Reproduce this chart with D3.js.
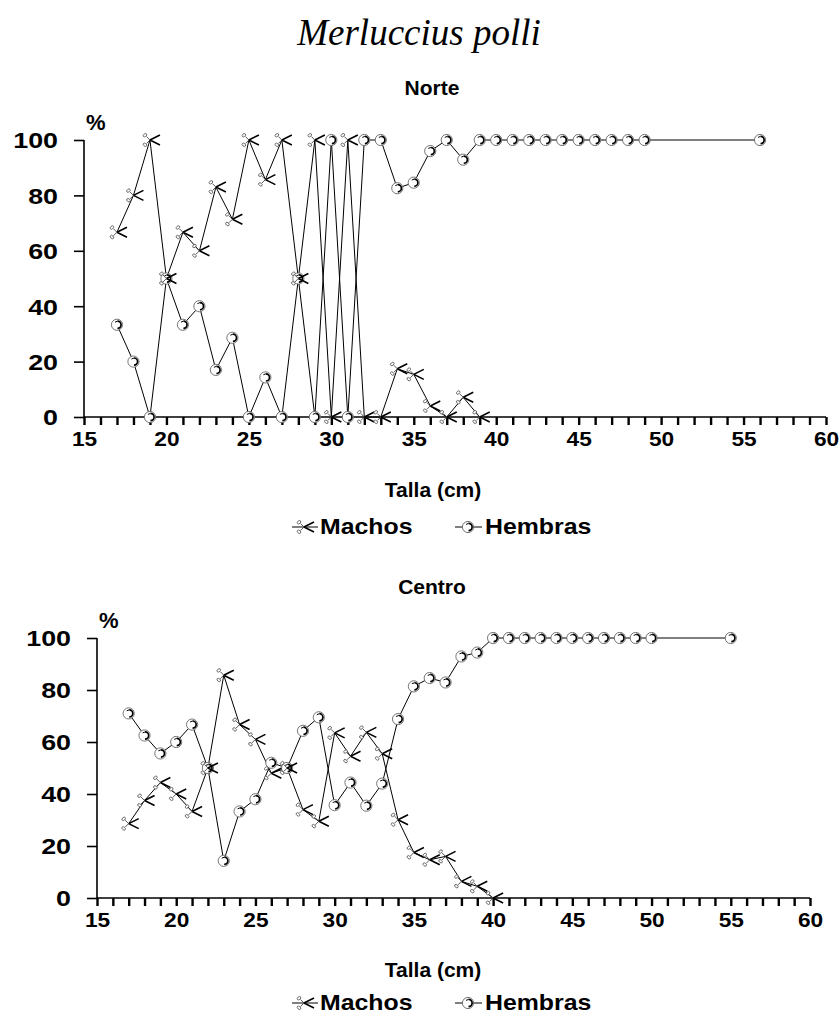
<!DOCTYPE html>
<html>
<head>
<meta charset="utf-8">
<script src="https://cdn.jsdelivr.net/npm/d3@7"></script>
<style>
  body { margin: 0; background: #fff; overflow: hidden; }
  svg { display: block; }
  svg text { font-family: "Liberation Sans", Arial, sans-serif; font-weight: bold; fill: #000; }
</style>
</head>
<body>
<div id="vis"></div>
<script>
// Talla (cm) for each panel
const norteTalla = [17, 18, 19, 20, 21, 22, 23, 24, 25, 26, 27, 28, 29, 30, 31, 32, 33, 34, 35, 36, 37, 38, 39, 40, 41, 42, 43, 44, 45, 46, 47, 48, 49, 56];
const norteMachos = [66.7, 80, 100, 50, 66.7, 60, 83, 71.4, 100, 85.7, 100, 50, 100, 0, 100, 0, 0, 17.4, 15.4, 4, 0, 7.1, 0];
const norteHembras = [33.3, 20, 0, 50, 33.3, 40, 17, 28.6, 0, 14.3, 0, 50, 0, 100, 0, 100, 100, 82.6, 84.6, 96, 100, 92.9, 100, 100, 100, 100, 100, 100, 100, 100, 100, 100, 100, 100];

const centroTalla = [17, 18, 19, 20, 21, 22, 23, 24, 25, 26, 27, 28, 29, 30, 31, 32, 33, 34, 35, 36, 37, 38, 39, 40, 41, 42, 43, 44, 45, 46, 47, 48, 49, 50, 55];
const centroMachos = [28.6, 37.5, 44.4, 40, 33.3, 50, 85.7, 66.7, 61, 48, 50, 34, 29.5, 63.5, 54.5, 63.7, 55.5, 30.1, 17.5, 14.7, 16, 6.4, 4.5, 0];
const centroHembras = [71, 62.5, 55.6, 60, 66.7, 50, 14.3, 33.3, 38, 52, 50, 64.3, 69.5, 35.7, 44.4, 35.5, 44, 68.8, 81.4, 84.6, 82.9, 92.9, 94.4, 100, 100, 100, 100, 100, 100, 100, 100, 100, 100, 100, 100];

const yTicks = [0, 20, 40, 60, 80, 100];
const xTicks = d3.range(15, 61, 1);

const W = 839, H = 1015;
const svg = d3.select("#vis").append("svg").attr("width", W).attr("height", H);

svg.append("text")
  .attr("x", 419).attr("y", 45)
  .attr("text-anchor", "middle")
  .style("font-family", "'Liberation Serif', 'Times New Roman', serif")
  .style("font-weight", "normal")
  .style("font-style", "italic")
  .style("font-size", "37px")
  .text("Merluccius polli");

// marker shapes
function drawMacho(g) {
  g.append("path").attr("d", "M0,0L10,-5M0,0L10,5").attr("stroke", "#000").attr("stroke-width", 1.6).attr("fill", "none");
  g.append("path").attr("d", "M0,0L-3.5,-3.5M0,0L-3.5,3.5").attr("stroke", "#444").attr("stroke-width", 0.9).attr("fill", "none");
  g.append("ellipse").attr("cx", -5).attr("cy", -4.8).attr("rx", 2).attr("ry", 1.4)
    .attr("transform", "rotate(-40,-5,-4.8)").attr("stroke", "#555").attr("stroke-width", 0.8).attr("fill", "#fff");
  g.append("ellipse").attr("cx", -5).attr("cy", 4.8).attr("rx", 2).attr("ry", 1.4)
    .attr("transform", "rotate(40,-5,4.8)").attr("stroke", "#555").attr("stroke-width", 0.8).attr("fill", "#fff");
}
function drawHembra(g) {
  g.append("circle").attr("r", 5.6).attr("fill", "#fff").attr("stroke", "#666").attr("stroke-width", 0.9);
  g.append("path").attr("d", "M0.5,-3.6A3.6,3.6 0 0 1 0.5,3.6").attr("stroke", "#000").attr("stroke-width", 1.7).attr("fill", "none");
  g.append("path").attr("d", "M-2,-2.6L0.5,-3.6").attr("stroke", "#000").attr("stroke-width", 1).attr("fill", "none");
}

function drawPanel(o) {
  const x = d3.scaleLinear().domain([15, 60]).range([o.left, o.right]);
  const y = d3.scaleLinear().domain([0, 100]).range([o.bottom, o.top]);

  svg.append("text").attr("x", 432).attr("y", o.titleY).attr("text-anchor", "middle")
    .style("font-size", "21px").text(o.title);

  // y axis
  const ya = svg.append("g").attr("transform", `translate(${o.left},0)`)
    .call(d3.axisLeft(y).tickValues(yTicks).tickSize(10).tickPadding(11.3));
  ya.select(".domain").attr("stroke-width", 1.6).attr("d", `M0,${o.top}V${o.bottom}`);
  ya.selectAll(".tick line").attr("stroke-width", 1.6);
  ya.selectAll(".tick text").style("font-size", "22px").style("font-family", "'Liberation Sans', Arial, sans-serif")
    .attr("dy", "0.36em").attr("transform", "scale(1.22,1)");

  // x axis
  const xa = svg.append("g").attr("transform", `translate(0,${o.bottom})`)
    .call(d3.axisBottom(x).tickValues(xTicks).tickSize(8).tickPadding(6)
      .tickFormat(d => d % 5 === 0 ? d : ""));
  xa.select(".domain").attr("stroke-width", 1.6).attr("d", `M${o.left},0H${o.right}`);
  xa.selectAll(".tick line").attr("stroke-width", 2.4);
  xa.selectAll(".tick text").style("font-size", "21px").style("font-family", "'Liberation Sans', Arial, sans-serif")
    .attr("transform", "scale(1.08,1)");

  svg.append("text").attr("x", o.left + 2).attr("y", o.top - 10).style("font-size", "22px").text("%");

  svg.append("text").attr("x", 433).attr("y", o.axisTitleY).attr("text-anchor", "middle")
    .style("font-size", "21px").text("Talla (cm)");

  const machos = o.machos.map((v, i) => [o.talla[i], v]);
  const hembras = o.hembras.map((v, i) => [o.talla[i], v]);
  const line = d3.line().x(d => x(d[0])).y(d => y(d[1]));

  svg.append("path").datum(machos).attr("d", line).attr("fill", "none").attr("stroke", "#000").attr("stroke-width", 1);
  svg.append("path").datum(hembras).attr("d", line).attr("fill", "none").attr("stroke", "#000").attr("stroke-width", 1);

  hembras.forEach(d => drawHembra(svg.append("g").attr("transform", `translate(${x(d[0])},${y(d[1])})`)));
  machos.forEach(d => drawMacho(svg.append("g").attr("transform", `translate(${x(d[0])},${y(d[1])})`)));

  // legend
  const lg = svg.append("g").attr("transform", `translate(0,${o.legendY})`);
  lg.append("line").attr("x1", 292).attr("x2", 318).attr("stroke", "#000");
  drawMacho(lg.append("g").attr("transform", "translate(304,0)"));
  lg.append("text").attr("transform", "translate(320,7) scale(1.13,1)").style("font-size", "22px").text("Machos");
  lg.append("line").attr("x1", 455).attr("x2", 482).attr("stroke", "#000");
  drawHembra(lg.append("g").attr("transform", "translate(468,0)"));
  lg.append("text").attr("transform", "translate(485,7) scale(1.13,1)").style("font-size", "22px").text("Hembras");
}

drawPanel({
  title: "Norte", titleY: 95, talla: norteTalla, machos: norteMachos, hembras: norteHembras,
  left: 84, right: 826, top: 140, bottom: 417, axisTitleY: 497, legendY: 527
});
drawPanel({
  title: "Centro", titleY: 594, talla: centroTalla, machos: centroMachos, hembras: centroHembras,
  left: 97, right: 810, top: 638, bottom: 898, axisTitleY: 977, legendY: 1003
});
</script>
</body>
</html>
